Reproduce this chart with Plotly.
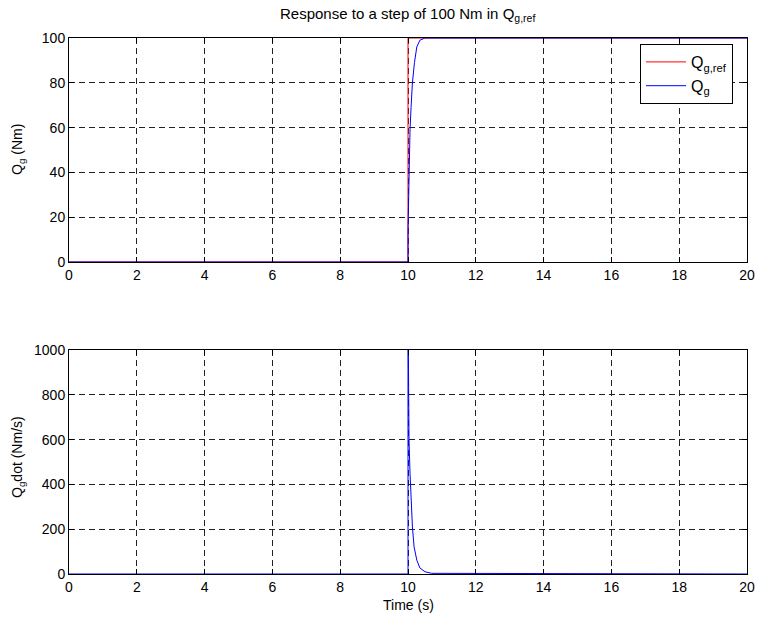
import plotly.graph_objects as go

# ---- data ----
t_ref = [0, 10, 10, 20]
q_ref = [0, 0, 100, 100]

t_resp = [0, 10.0, 10.0, 10.03, 10.06, 10.09, 10.13, 10.19, 10.26, 10.35, 10.5, 20]
q_g = [0, 0, 14, 40, 59, 69, 80, 89, 96, 99, 100, 100]

t_dot = [0, 10.0, 10.0, 10.01, 10.03, 10.06, 10.09, 10.13, 10.18, 10.26, 10.35, 10.5, 10.7, 20]
q_dot = [0, 0, 1200, 866, 598, 450, 316, 210, 121, 62, 27, 10, 3, 0]

x_ticks = [0, 2, 4, 6, 8, 10, 12, 14, 16, 18, 20]
y1_ticks = [0, 20, 40, 60, 80, 100]
y2_ticks = [0, 200, 400, 600, 800, 1000]

FONT = "Liberation Sans, Arial, sans-serif"
W, H = 758, 619


def px(x):
    return x / W


def py(y):
    return 1 - y / H


fig = go.Figure()
fig.add_trace(go.Scatter(x=t_ref, y=q_ref, mode="lines", line=dict(color="#ff0000", width=1),
                         name="Q<sub>g,ref</sub>", xaxis="x", yaxis="y"))
fig.add_trace(go.Scatter(x=t_resp, y=q_g, mode="lines", line=dict(color="#0000ff", width=1),
                         name="Q<sub>g</sub>", xaxis="x", yaxis="y"))
fig.add_trace(go.Scatter(x=t_dot, y=q_dot, mode="lines", line=dict(color="#0000ff", width=1),
                         showlegend=False, xaxis="x2", yaxis="y2"))

xd = [px(69), px(747)]
ax_common = dict(showline=True, linecolor="black", linewidth=1, mirror="ticks", ticks="inside",
                 ticklen=5, tickcolor="black", showgrid=True, gridcolor="#222222", gridwidth=1,
                 griddash="6px,4px", zeroline=False, tickfont=dict(family=FONT, size=14, color="black"),
                 automargin=False, ticklabeloverflow="allow")

fig.update_layout(
    width=W, height=H,
    margin=dict(l=0, r=0, t=0, b=0),
    paper_bgcolor="white", plot_bgcolor="white",
    font=dict(family=FONT, size=14, color="black"),
    xaxis=dict(domain=xd, range=[0, 20], tickvals=x_ticks, anchor="y", **ax_common),
    yaxis=dict(domain=[py(262), py(38)], range=[0, 100], tickvals=y1_ticks, anchor="x", **ax_common),
    xaxis2=dict(domain=xd, range=[0, 20], tickvals=x_ticks, anchor="y2", **ax_common),
    yaxis2=dict(domain=[py(574), py(350)], range=[0, 1000], tickvals=y2_ticks, anchor="x2", **ax_common),
    legend=dict(x=px(733), y=py(44), xanchor="right", yanchor="top", bgcolor="white",
                bordercolor="black", borderwidth=1, font=dict(family=FONT, size=16),
                tracegroupgap=0, itemwidth=40),
    showlegend=True,
)

fig.add_annotation(text="Response to a step of 100 Nm in Q<sub>g,ref</sub>", x=px(407), y=py(15),
                   xref="paper", yref="paper", showarrow=False, font=dict(family=FONT, size=15),
                   xanchor="center", yanchor="middle")
fig.add_annotation(text="Q<sub>g</sub> (Nm)", x=px(18), y=py(150), xref="paper", yref="paper",
                   showarrow=False, textangle=-90, font=dict(family=FONT, size=14),
                   xanchor="center", yanchor="middle")
fig.add_annotation(text="Q<sub>g</sub>dot (Nm/s)", x=px(18), y=py(457), xref="paper", yref="paper",
                   showarrow=False, textangle=-90, font=dict(family=FONT, size=14),
                   xanchor="center", yanchor="middle")
fig.add_annotation(text="Time (s)", x=px(408), y=py(605), xref="paper", yref="paper",
                   showarrow=False, font=dict(family=FONT, size=14), xanchor="center", yanchor="middle")

fig.write_html(
    "out.html",
    config={"displayModeBar": False},
    post_script="document.body.style.margin='0';document.body.style.overflow='hidden';",
)
